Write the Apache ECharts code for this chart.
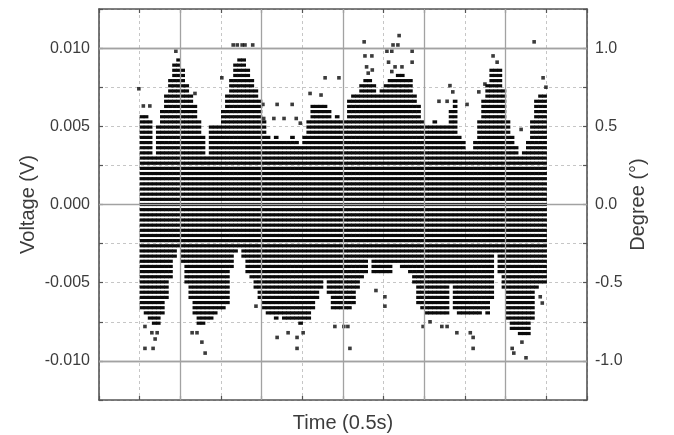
<!DOCTYPE html>
<html>
<head>
<meta charset="utf-8">
<script src="https://cdn.jsdelivr.net/npm/echarts@6/dist/echarts.min.js"></script>
<style>
  html, body { margin: 0; padding: 0; background: #fff; }
  #chart { width: 674px; height: 435px; }
</style>
</head>
<body>
<div id="chart"></div>
<script>
// Envelope of the digitised sensor output, one column every 0.1 time unit from t = 1.0 (mV)
const upperMV = [
  5.9, 5.8, 5.6, 3.2, 5.0, 6.2, 7.0, 8.0, 9.0, 9.4,
  8.6, 7.6, 7.0, 6.3, 5.4, 4.4, 3.2, 5.0, 5.2, 5.0,
  6.1, 7.1, 8.2, 9.2, 9.5, 9.4, 8.9, 8.2, 7.5, 6.6,
  5.6, 4.6, 4.2, 4.5, 4.2, 4.0, 4.0, 4.3, 4.0, 3.9,
  4.3, 5.5, 6.3, 6.5, 6.3, 6.3, 6.0, 5.6, 5.8, 5.4,
  5.6, 6.6, 7.0, 7.2, 7.8, 8.0, 8.0, 7.6, 7.1, 7.3,
  7.7, 8.2, 8.2, 8.3, 8.3, 8.2, 8.0, 7.0, 6.4, 5.4,
  5.0, 5.0, 5.3, 5.0, 5.0, 5.0, 6.0, 6.6, 4.5, 4.0,
  3.6, 3.4, 4.0, 5.5, 6.8, 7.8, 8.6, 8.9, 8.8, 7.5,
  5.6, 4.6, 3.8, 3.2, 3.4, 4.0, 5.6, 6.9, 7.0, 7.0
];
const lowerMV = [
  -6.7, -7.1, -7.5, -7.9, -7.6, -7.0, -6.0, -4.8, -3.4, -2.7,
  -3.8, -5.0, -6.2, -7.0, -7.7, -7.6, -7.5, -7.4, -7.0, -6.8,
  -6.7, -6.3, -4.0, -3.0, -2.8, -3.6, -4.3, -4.9, -5.6, -6.2,
  -6.8, -7.0, -7.2, -7.3, -7.2, -7.5, -7.5, -7.5, -7.5, -7.6,
  -7.5, -7.4, -6.8, -6.0, -5.3, -4.9, -5.8, -6.6, -6.6, -6.6,
  -6.6, -6.6, -6.4, -5.6, -4.7, -4.5, -3.3, -4.3, -4.4, -4.3,
  -4.3, -4.4, -3.8, -3.9, -4.0, -4.2, -4.5, -5.0, -6.4, -6.8,
  -7.1, -7.1, -7.1, -7.2, -7.0, -7.2, -5.0, -6.8, -7.0, -7.0,
  -7.1, -7.0, -7.0, -7.0, -6.9, -7.0, -6.0, -3.2, -4.6, -5.6,
  -7.4, -8.0, -8.2, -8.3, -8.4, -8.3, -7.5, -5.4, -5.2, -5.2
];
const sampleStep = 0.1;
const sampleTime = upperMV.map((_, i) => +(1 + i * sampleStep).toFixed(2));

// converter resolution, mV per code
const adcStepMV = 0.33;

// isolated samples lying outside the dense envelope
const outlierTime = [
  0.98, 1.09, 1.25, 1.89, 2.36, 3.02, 3.30, 3.40, 3.52, 3.59, 3.78,
  4.03, 4.38, 4.75, 4.05, 4.30, 4.55, 4.85, 4.95, 5.19, 5.46, 5.56, 5.90,
  6.52, 7.38, 7.23, 7.35, 7.08, 7.20, 6.54, 6.71, 6.58, 6.72, 6.62,
  7.70, 7.70, 7.12, 7.28, 7.45, 7.20, 8.36, 8.56, 8.63, 8.70, 9.05,
  9.34, 9.49, 9.69, 9.79, 10.38, 10.70, 10.92, 10.99,
  1.13, 1.33, 1.38, 1.30, 1.43, 1.13, 2.29, 2.41, 2.53, 2.61,
  3.86, 4.38, 4.65, 4.87, 4.87, 5.02, 5.80, 6.02, 6.12, 6.17,
  6.81, 7.03, 7.03, 7.97, 8.14, 8.43, 8.56, 8.80, 9.13, 9.20, 9.20,
  10.16, 10.20, 10.50, 10.40, 10.90, 10.85
];
const outlierMV = [
  7.4, 6.3, 6.3, 9.8, 7.1, 8.1, 10.2, 10.2, 10.2, 10.2, 10.2,
  6.4, 6.4, 6.4, 5.5, 5.5, 5.5, 5.5, 5.2, 7.1, 7.0, 8.1, 8.1,
  10.4, 10.8, 10.2, 10.2, 9.8, 9.8, 9.5, 9.5, 8.8, 8.6, 8.4,
  9.8, 9.1, 9.1, 8.8, 8.8, 8.5, 6.6, 6.6, 7.6, 7.2, 6.4,
  7.2, 7.7, 9.5, 9.1, 4.8, 10.4, 8.1, 7.5,
  -9.2, -9.2, -8.6, -8.2, -8.2, -7.8, -8.2, -8.2, -8.8, -9.5,
  -6.5, -8.5, -8.2, -8.5, -9.2, -8.2, -7.8, -7.8, -7.8, -9.2,
  -5.5, -6.5, -5.9, -7.8, -7.5, -7.8, -7.8, -8.2, -8.2, -8.5, -9.2,
  -9.2, -9.5, -9.8, -8.8, -6.3, -5.9
];

// major grid positions (labelled ticks)
const majorVolt = [-0.010, -0.005, 0.000, 0.005, 0.010];
const majorTime = [2, 4, 6, 8, 10];

const codeLevelsMV = [];
for (let k = -40; k <= 40; k++) codeLevelsMV.push(k * adcStepMV);

const bandData = sampleTime.map((t, i) => [t, lowerMV[i] / 1000, upperMV[i] / 1000]);
const dotData = outlierTime.map((t, i) => [t, outlierMV[i] / 1000]);

const ink = '#0a0a0a';
const frame = '#555';
const textColor = '#3c3c3c';
const fontFamily = 'Liberation Sans, Arial, Helvetica, sans-serif';

// each column of the band: one short bar per converter code between its lower and upper bound
function renderColumn(params, api) {
  const t = api.value(0);
  const lo = api.value(1);
  const hi = api.value(2);
  const xl = api.coord([t, 0])[0];
  const xr = api.coord([t + sampleStep, 0])[0];
  const children = [];
  for (const lvMV of codeLevelsMV) {
    const lv = lvMV / 1000;
    if (lv < lo - 1e-9 || lv > hi + 1e-9) continue;
    const y = api.coord([t, lv])[1];
    children.push({
      type: 'rect',
      shape: { x: xl, y: y - 1.6, width: xr - xl + 0.6, height: 3.2 },
      style: { fill: ink }
    });
  }
  return { type: 'group', children };
}

const chart = echarts.init(document.getElementById('chart'), null, { renderer: 'canvas' });

const dashedSplit = { show: true, lineStyle: { color: '#c6c6c6', width: 1, type: [3, 3] } };
const solidGrid = { color: '#a2a2a2', width: 1.3, type: 'solid' };

chart.setOption({
  animation: false,
  backgroundColor: '#fff',
  grid: {
    left: 99, right: 87, top: 9, bottom: 35, show: false,
    containLabel: false, outerBoundsMode: 'none'
  },
  xAxis: [
    {
      type: 'value', min: 0, max: 12, interval: 1, position: 'bottom',
      axisLine: { show: true, onZero: false, lineStyle: { color: frame, width: 1.6 } },
      axisTick: { show: true, inside: true, length: 4, lineStyle: { color: frame, width: 1.2 } },
      axisLabel: { show: false },
      splitLine: dashedSplit,
      name: 'Time (0.5s)', nameLocation: 'middle', nameGap: 13, nameMoveOverlap: false,
      nameTextStyle: { fontFamily, fontSize: 20, color: textColor }
    },
    {
      type: 'value', min: 0, max: 12, interval: 1, position: 'top',
      axisLine: { show: true, onZero: false, lineStyle: { color: frame, width: 1.6 } },
      axisTick: { show: true, inside: true, length: 4, lineStyle: { color: frame, width: 1.2 } },
      axisLabel: { show: false },
      splitLine: { show: false }
    }
  ],
  yAxis: [
    {
      type: 'value', min: -0.0125, max: 0.0125, interval: 0.0025, position: 'left',
      axisLine: { show: true, onZero: false, lineStyle: { color: frame, width: 1.6 } },
      axisTick: { show: true, inside: true, length: 4, lineStyle: { color: frame, width: 1.2 } },
      axisLabel: {
        margin: 9, fontFamily, fontSize: 16, color: textColor,
        formatter: v => {
          const k = Math.round(v / 0.0025);
          return k % 2 === 0 ? (k * 0.0025).toFixed(3).replace('-0.000', '0.000') : '';
        }
      },
      splitLine: dashedSplit,
      name: 'Voltage (V)', nameLocation: 'middle', nameGap: 61, nameRotate: 90,
      nameMoveOverlap: false,
      nameTextStyle: { fontFamily, fontSize: 20, color: textColor }
    },
    {
      type: 'value', min: -1.25, max: 1.25, interval: 0.25, position: 'right',
      axisLine: { show: true, onZero: false, lineStyle: { color: frame, width: 1.6 } },
      axisTick: { show: true, inside: true, length: 4, lineStyle: { color: frame, width: 1.2 } },
      axisLabel: {
        margin: 8, fontFamily, fontSize: 16, color: textColor,
        formatter: v => {
          const k = Math.round(v / 0.25);
          return k % 2 === 0 ? (k * 0.25).toFixed(1).replace('-0.0', '0.0') : '';
        }
      },
      splitLine: { show: false },
      name: 'Degree (°)', nameLocation: 'middle', nameGap: 41, nameRotate: 90,
      nameMoveOverlap: false,
      nameTextStyle: { fontFamily, fontSize: 20, color: textColor }
    }
  ],
  series: [
    {
      // solid major grid lines
      type: 'line', xAxisIndex: 0, yAxisIndex: 0, z: 1,
      data: [[0, 0]], symbol: 'none', lineStyle: { width: 0, opacity: 0 },
      silent: true,
      markLine: {
        silent: true, symbol: ['none', 'none'], label: { show: false },
        lineStyle: solidGrid, animation: false,
        data: majorVolt.map(v => ({ yAxis: v }))
          .concat(majorTime.map(t => ({ xAxis: t })))
      }
    },
    {
      type: 'custom', xAxisIndex: 0, yAxisIndex: 0, z: 3,
      renderItem: renderColumn,
      encode: { x: 0, y: [1, 2] },
      data: bandData,
      clip: true, silent: true
    },
    {
      type: 'scatter', xAxisIndex: 0, yAxisIndex: 0, z: 4,
      symbol: 'rect', symbolSize: [3.6, 3.6],
      itemStyle: { color: ink },
      data: dotData, silent: true
    }
  ]
});
</script>
</body>
</html>
